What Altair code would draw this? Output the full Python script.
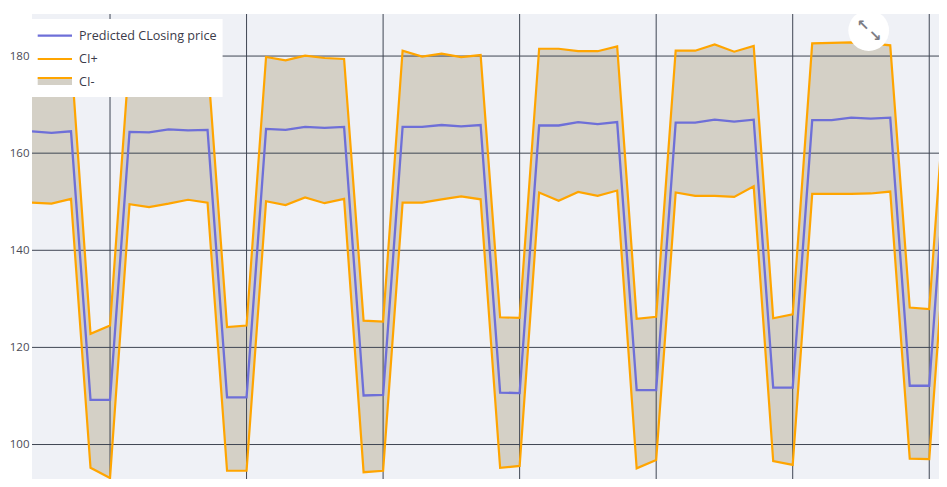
import altair as alt
import pandas as pd

# ---- data (day index, values) ----
days = list(range(48))
predicted = [164.5, 164.2, 164.5, 109.2, 109.2,
             164.4, 164.3, 164.9, 164.7, 164.8, 109.7, 109.7,
             165.0, 164.8, 165.4, 165.2, 165.4, 110.1, 110.2,
             165.4, 165.4, 165.8, 165.5, 165.8, 110.7, 110.6,
             165.7, 165.7, 166.4, 166.0, 166.4, 111.2, 111.2,
             166.3, 166.3, 166.9, 166.5, 166.9, 111.7, 111.7,
             166.8, 166.8, 167.3, 167.1, 167.3, 112.1, 112.1,
             167.4]
ci_plus = [179.6, 179.4, 180.2, 122.8, 124.5,
           180.3, 179.5, 179.9, 179.6, 179.2, 124.2, 124.5,
           179.8, 179.1, 180.1, 179.6, 179.4, 125.5, 125.3,
           181.1, 179.9, 180.5, 179.8, 180.2, 126.2, 126.1,
           181.5, 181.5, 181.0, 181.0, 182.0, 125.9, 126.3,
           181.1, 181.1, 182.4, 180.9, 182.1, 126.0, 126.8,
           182.6, 182.7, 182.8, 182.6, 182.2, 128.2, 127.9,
           182.8]
ci_minus = [149.8, 149.6, 150.6, 95.2, 93.1,
            149.5, 148.9, 149.6, 150.4, 149.8, 94.6, 94.6,
            150.1, 149.3, 150.9, 149.7, 150.6, 94.3, 94.6,
            149.8, 149.8, 150.5, 151.1, 150.5, 95.2, 95.6,
            151.9, 150.2, 152.0, 151.2, 152.3, 95.1, 96.8,
            151.9, 151.2, 151.2, 151.0, 153.2, 96.6, 95.8,
            151.6, 151.6, 151.6, 151.7, 152.1, 97.1, 97.0,
            152.0]
y_ticks = [100, 120, 140, 160, 180]
week_lines = [4, 11, 18, 25, 32, 39, 46]
legend_labels = ["Predicted CLosing price", "CI+", "CI-"]

BLUE = "#6e6fd8"
ORANGE = "#FFA500"
TAN = "#d4d0c6"
GRID = "#3f4653"
FONT = "Open Sans"

df = pd.DataFrame({"day": days, "pred": predicted, "up": ci_plus, "lo": ci_minus})
ydf = pd.DataFrame({"v": y_ticks})
xdf = pd.DataFrame({"d": week_lines})
one = pd.DataFrame({"k": [0]})

xs = alt.Scale(domain=[0, 46.5], nice=False, zero=False)
ys = alt.Scale(domain=[92.9, 188.66], nice=False, zero=False)

base = alt.Chart(df)

band = base.mark_area(color=TAN, opacity=1, clip=True).encode(
    x=alt.X("day:Q", scale=xs, axis=None),
    y=alt.Y("up:Q", scale=ys,
            axis=alt.Axis(values=y_ticks, grid=False, ticks=False, domain=False,
                          labelFont=FONT, labelFontSize=11.5, labelColor="#4a4a55",
                          labelPadding=3, title=None)),
    y2="lo:Q",
)

hgrid = alt.Chart(ydf).mark_rule(color=GRID, strokeWidth=1).encode(
    y=alt.Y("v:Q", scale=ys)
)
vgrid = alt.Chart(xdf).mark_rule(color=GRID, strokeWidth=1).encode(
    x=alt.X("d:Q", scale=xs)
)

line_up = base.mark_line(color=ORANGE, strokeWidth=2.2, clip=True).encode(
    x=alt.X("day:Q", scale=xs), y=alt.Y("up:Q", scale=ys))
line_lo = base.mark_line(color=ORANGE, strokeWidth=2.2, clip=True).encode(
    x=alt.X("day:Q", scale=xs), y=alt.Y("lo:Q", scale=ys))
line_pred = base.mark_line(color=BLUE, strokeWidth=2.3, clip=True).encode(
    x=alt.X("day:Q", scale=xs), y=alt.Y("pred:Q", scale=ys))

# ---- legend box (top-left, overlaying the plot) ----
lg = alt.Chart(one)
leg_box = lg.mark_rect(fill="white").encode(
    x=alt.value(0), x2=alt.value(190.6), y=alt.value(5), y2=alt.value(83))
leg_l1 = lg.mark_rule(color=BLUE, strokeWidth=2.3).encode(
    x=alt.value(5.7), x2=alt.value(40), y=alt.value(21.7))
leg_l2 = lg.mark_rule(color=ORANGE, strokeWidth=2.2).encode(
    x=alt.value(5.7), x2=alt.value(40), y=alt.value(45))
leg_sw = lg.mark_rect(fill=TAN).encode(
    x=alt.value(5.7), x2=alt.value(40), y=alt.value(63.5), y2=alt.value(71))
leg_l3 = lg.mark_rule(color=ORANGE, strokeWidth=2.2).encode(
    x=alt.value(5.7), x2=alt.value(40), y=alt.value(64))
txt = dict(align="left", baseline="middle", font=FONT, fontSize=12.6, color="#3b3b4a")
leg_t1 = lg.mark_text(**txt).encode(x=alt.value(47), y=alt.value(21.7), text=alt.value(legend_labels[0]))
leg_t2 = lg.mark_text(**txt).encode(x=alt.value(47), y=alt.value(45), text=alt.value(legend_labels[1]))
leg_t3 = lg.mark_text(**txt).encode(x=alt.value(47), y=alt.value(67.5), text=alt.value(legend_labels[2]))

# ---- expand button overlay ----
btn = lg.mark_point(shape="circle", filled=True, color="white", opacity=1, size=1662).encode(
    x=alt.value(836.7), y=alt.value(16.5))
arr1 = lg.mark_text(font="DejaVu Sans", fontSize=15, fontWeight="bold", color="#7c7c84").encode(
    x=alt.value(831), y=alt.value(11), text=alt.value("↖"))
arr2 = lg.mark_text(font="DejaVu Sans", fontSize=15, fontWeight="bold", color="#7c7c84").encode(
    x=alt.value(843), y=alt.value(22), text=alt.value("↘"))

chart = alt.layer(
    band, hgrid, vgrid, line_up, line_lo, line_pred,
    leg_box, leg_l1, leg_l2, leg_sw, leg_l3, leg_t1, leg_t2, leg_t3,
    btn, arr1, arr2,
).properties(
    width=907, height=465,
    autosize=alt.AutoSizeParams(type="none"),
    padding={"left": 24, "top": 6, "right": 0, "bottom": 0},
    background="white",
).configure_view(fill="#eff1f6", stroke=None)

chart.save("out.html", embed_options={"renderer": "svg", "actions": False})
